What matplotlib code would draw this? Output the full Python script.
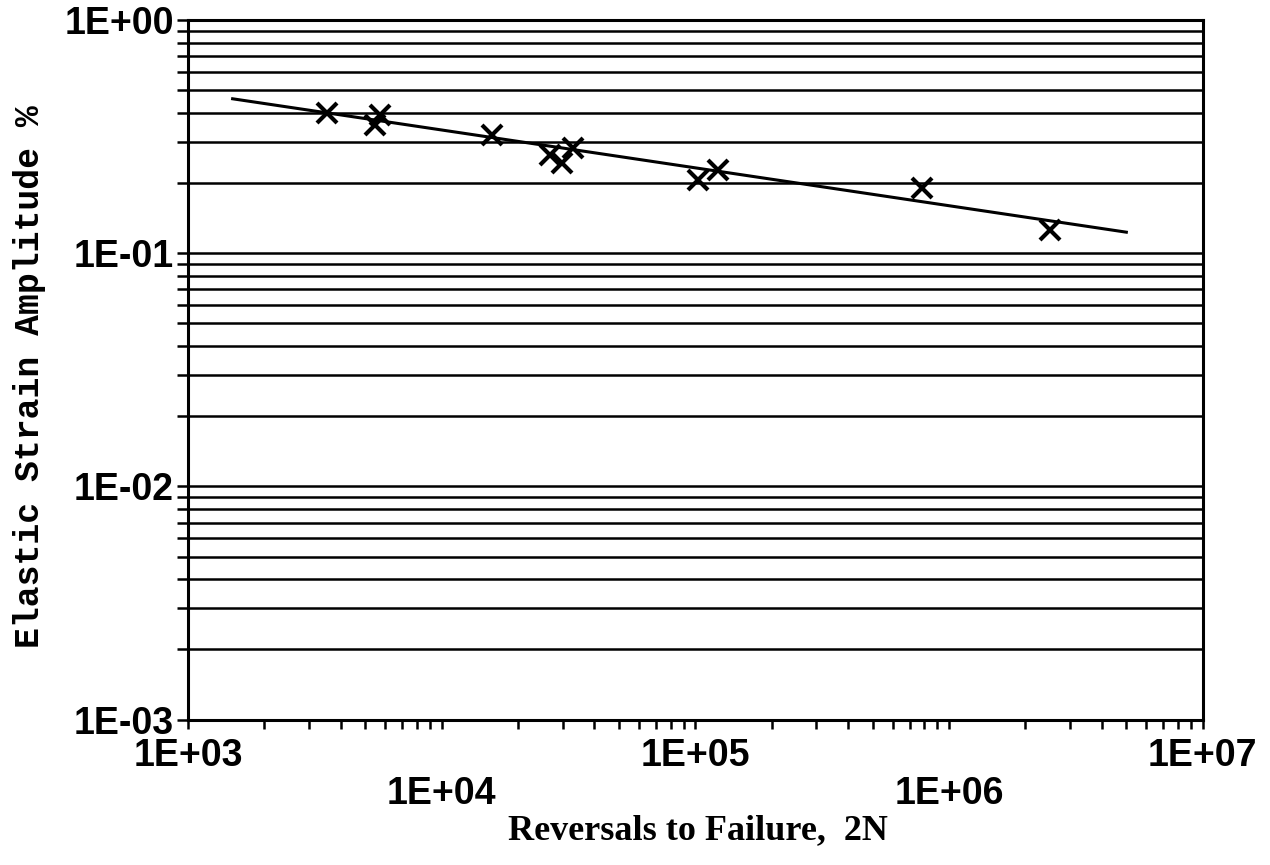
import numpy as np
import matplotlib
matplotlib.use("Agg")
import matplotlib.pyplot as plt
from matplotlib.ticker import LogLocator, NullFormatter, FixedLocator

# fatigue test points (reversals, elastic strain amplitude %)
reversals = [3530, 5460, 5710, 15800, 26700, 29800, 32900, 102000, 123000, 781000, 2490000]
strain = [0.399, 0.355, 0.392, 0.321, 0.264, 0.244, 0.283, 0.206, 0.228, 0.191, 0.126]

# fitted elastic line end points
fit_x = [1500, 5.0e6]
fit_y = [0.459, 0.123]

x_ticks = [1e3, 1e4, 1e5, 1e6, 1e7]
x_labels = ["1E+03", "1E+04", "1E+05", "1E+06", "1E+07"]
y_ticks = [1e-3, 1e-2, 1e-1, 1e0]
y_labels = ["1E-03", "1E-02", "1E-01", "1E+00"]

fig = plt.figure(figsize=(12.7, 8.65), dpi=100)
ax = fig.add_axes([0.148, 0.168, 0.799, 0.809])

ax.set_xscale("log")
ax.set_yscale("log")
ax.set_xlim(1e3, 1e7)
ax.set_ylim(1e-3, 1e0)

ax.plot(fit_x, fit_y, color="black", lw=2.2, zorder=3)
ax.plot(reversals, strain, linestyle="none", marker="x", color="black",
        markersize=15, markeredgewidth=3, zorder=4)

# horizontal rules on every decade and sub-decade
ax.yaxis.set_major_locator(FixedLocator(y_ticks))
ax.yaxis.set_minor_locator(LogLocator(base=10, subs=np.arange(2, 10)))
ax.yaxis.set_minor_formatter(NullFormatter())
ax.set_yticklabels(y_labels)
ax.yaxis.grid(True, which="both", color="black", lw=1.8)
ax.xaxis.grid(False)

ax.xaxis.set_major_locator(FixedLocator(x_ticks))
ax.xaxis.set_minor_locator(LogLocator(base=10, subs=np.arange(2, 10)))
ax.xaxis.set_minor_formatter(NullFormatter())
ax.set_xticklabels(x_labels)

for s in ax.spines.values():
    s.set_linewidth(2.2)

ax.tick_params(axis="y", which="both", direction="out", length=8, width=1.8,
               pad=2, right=False)
ax.tick_params(axis="x", which="both", direction="out", length=6.5, width=1.8,
               top=False)
for lab in ax.get_xticklabels() + ax.get_yticklabels():
    lab.set_fontfamily("Liberation Sans")
    lab.set_fontweight("bold")
    lab.set_fontsize(27)

# stagger the decade labels on two rows
for i, tick in enumerate(ax.xaxis.get_major_ticks()):
    tick.set_pad(7 if i % 2 == 0 else 34)

ax.set_xlabel("Reversals to Failure,  2N", fontfamily="Liberation Serif",
              fontweight="bold", fontsize=26, va="center")
ax.xaxis.set_label_coords(0.503, -0.159)
ax.set_ylabel("Elastic Strain Amplitude %", fontfamily="Liberation Mono",
              fontweight="bold", fontsize=25, va="center")
ax.yaxis.set_label_coords(-0.156, 0.49)

fig.savefig("out.png", dpi=100, facecolor="white")
